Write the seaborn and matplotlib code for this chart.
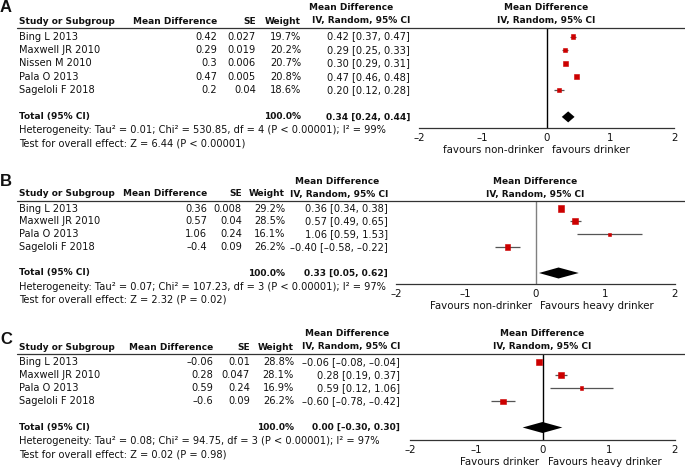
import matplotlib
matplotlib.use("Agg")
import matplotlib.pyplot as plt
import seaborn as sns
import pandas as pd
import numpy as np

# ---------------- data ----------------
studies_A = ["Bing L 2013", "Maxwell JR 2010", "Nissen M 2010", "Pala O 2013", "Sageloli F 2018"]
md_A = [0.42, 0.29, 0.3, 0.47, 0.2]
se_A = [0.027, 0.019, 0.006, 0.005, 0.04]
weight_A = [19.7, 20.2, 20.7, 20.8, 18.6]
lo_A = [0.37, 0.25, 0.29, 0.46, 0.12]
hi_A = [0.47, 0.33, 0.31, 0.48, 0.28]
total_A = [0.34, 0.24, 0.44]
het_A = "Heterogeneity: Tau\u00b2 = 0.01; Chi\u00b2 = 530.85, df = 4 (P < 0.00001); I\u00b2 = 99%"
test_A = "Test for overall effect: Z = 6.44 (P < 0.00001)"
favours_A = ["favours non-drinker", "favours drinker"]

studies_B = ["Bing L 2013", "Maxwell JR 2010", "Pala O 2013", "Sageloli F 2018"]
md_B = [0.36, 0.57, 1.06, -0.4]
se_B = [0.008, 0.04, 0.24, 0.09]
weight_B = [29.2, 28.5, 16.1, 26.2]
lo_B = [0.34, 0.49, 0.59, -0.58]
hi_B = [0.38, 0.65, 1.53, -0.22]
total_B = [0.33, 0.05, 0.62]
het_B = "Heterogeneity: Tau\u00b2 = 0.07; Chi\u00b2 = 107.23, df = 3 (P < 0.00001); I\u00b2 = 97%"
test_B = "Test for overall effect: Z = 2.32 (P = 0.02)"
favours_B = ["Favours non-drinker", "Favours heavy drinker"]

studies_C = ["Bing L 2013", "Maxwell JR 2010", "Pala O 2013", "Sageloli F 2018"]
md_C = [-0.06, 0.28, 0.59, -0.6]
se_C = [0.01, 0.047, 0.24, 0.09]
weight_C = [28.8, 28.1, 16.9, 26.2]
lo_C = [-0.08, 0.19, 0.12, -0.78]
hi_C = [-0.04, 0.37, 1.06, -0.42]
total_C = [0.00, -0.30, 0.30]
het_C = "Heterogeneity: Tau\u00b2 = 0.08; Chi\u00b2 = 94.75, df = 3 (P < 0.00001); I\u00b2 = 97%"
test_C = "Test for overall effect: Z = 0.02 (P = 0.98)"
favours_C = ["Favours drinker", "Favours heavy drinker"]

x_ticks = [-2, -1, 0, 1, 2]
x_tick_labels = ["\u20132", "\u20131", "0", "1", "2"]

# ---------------- style ----------------
sns.set_style("white")
plt.rcParams["font.family"] = ["DejaVu Sans"]
plt.rcParams["text.color"] = "#111111"
plt.rcParams["xtick.color"] = "#111111"
FS = 7.1
FSB = 6.5
W, H = 685, 467
fig = plt.figure(figsize=(W / 100, H / 100), dpi=100)


def fx(x):
    return x / W


def fy(y):
    return 1 - y / H


def num(v):
    return f"{v:g}".replace("-", "\u2013")


def f2(v):
    return f"{v:.2f}".replace("-", "\u2013")


panels = [
    dict(letter="A", letter_y=7, studies=studies_A, md=md_A, se=se_A, w=weight_A, lo=lo_A, hi=hi_A,
         total=total_A, het=het_A, test=test_A, fav=favours_A,
         line_y=28, row0=36.5, sp=13.4, axis_y=128,
         c_md=217, c_se=256, c_w=301, c_ci=410, ci_head=351,
         fl=419, fr=674, zcol="black"),
    dict(letter="B", letter_y=182, studies=studies_B, md=md_B, se=se_B, w=weight_B, lo=lo_B, hi=hi_B,
         total=total_B, het=het_B, test=test_B, fav=favours_B,
         line_y=201, row0=208.5, sp=12.9, axis_y=284,
         c_md=207, c_se=242, c_w=285, c_ci=388, ci_head=337,
         fl=396, fr=675, zcol="#808080"),
    dict(letter="C", letter_y=340, studies=studies_C, md=md_C, se=se_C, w=weight_C, lo=lo_C, hi=hi_C,
         total=total_C, het=het_C, test=test_C, fav=favours_C,
         line_y=354, row0=362, sp=13.1, axis_y=440,
         c_md=213, c_se=250, c_w=294, c_ci=400, ci_head=347,
         fl=410, fr=675, zcol="black"),
]

for p in panels:
    n = len(p["studies"])
    ly, r0, sp = p["line_y"], p["row0"], p["sp"]
    rows_px = [r0 + i * sp for i in range(n)]
    tot_px = r0 + (n + 1) * sp

    # panel letter
    fig.text(fx(0), fy(p["letter_y"]), p["letter"], fontsize=12, fontweight="bold",
             family="Liberation Sans", ha="left", va="center")

    # header line
    fig.add_artist(plt.Line2D([fx(17), fx(685)], [fy(ly), fy(ly)], color="#333333", lw=0.9))

    # headers
    hy = ly - 7
    hy2 = ly - 20
    kw = dict(fontsize=FSB, fontweight="bold", va="center")
    fig.text(fx(19), fy(hy), "Study or Subgroup", ha="left", **kw)
    fig.text(fx(p["c_md"]), fy(hy), "Mean Difference", ha="right", **kw)
    fig.text(fx(p["c_se"]), fy(hy), "SE", ha="right", **kw)
    fig.text(fx(p["c_w"]), fy(hy), "Weight", ha="right", **kw)
    fig.text(fx(p["c_ci"]), fy(hy), "IV, Random, 95% CI", ha="right", **kw)
    fig.text(fx(p["ci_head"]), fy(hy2), "Mean Difference", ha="center", **kw)
    x0px = p["fl"] + (p["fr"] - p["fl"]) / 2
    fig.text(fx(x0px), fy(hy), "IV, Random, 95% CI", ha="center", **kw)
    fig.text(fx(x0px), fy(hy2), "Mean Difference", ha="center", **kw)

    # rows
    kw = dict(fontsize=FS, va="center")
    for i in range(n):
        y = fy(rows_px[i])
        fig.text(fx(19), y, p["studies"][i], ha="left", **kw)
        fig.text(fx(p["c_md"]), y, num(p["md"][i]), ha="right", **kw)
        fig.text(fx(p["c_se"]), y, num(p["se"][i]), ha="right", **kw)
        fig.text(fx(p["c_w"]), y, f"{p['w'][i]:.1f}%", ha="right", **kw)
        fig.text(fx(p["c_ci"]), y,
                 f"{f2(p['md'][i])} [{f2(p['lo'][i])}, {f2(p['hi'][i])}]", ha="right", **kw)

    t = p["total"]
    kwb = dict(fontsize=FSB, va="center", fontweight="bold")
    fig.text(fx(19), fy(tot_px), "Total (95% CI)", ha="left", **kwb)
    fig.text(fx(p["c_w"]), fy(tot_px), "100.0%", ha="right", **kwb)
    fig.text(fx(p["c_ci"]), fy(tot_px), f"{f2(t[0])} [{f2(t[1])}, {f2(t[2])}]", ha="right", **kwb)
    fig.text(fx(19), fy(tot_px + 13.5), p["het"], ha="left", **kw)
    fig.text(fx(19), fy(tot_px + 27), p["test"], ha="left", **kw)

    # forest axes
    ay = p["axis_y"]
    ax = fig.add_axes([fx(p["fl"]), fy(ay), (p["fr"] - p["fl"]) / W, (ay - ly) / H])
    ax.set_facecolor("none")
    ax.set_xlim(-2, 2)
    ax.set_ylim((ay - r0) / sp, (ly - r0) / sp)
    for s in ["top", "left", "right"]:
        ax.spines[s].set_visible(False)
    ax.spines["bottom"].set_color("#333333")
    ax.spines["bottom"].set_linewidth(0.9)
    ax.set_yticks([])
    ax.set_xticks(x_ticks)
    ax.set_xticklabels(x_tick_labels, fontsize=FS + 0.3)
    ax.tick_params(axis="x", direction="inout", length=6, width=0.9, color="#333333", pad=0.5)
    ax.axvline(0, color=p["zcol"], lw=1.0, zorder=1)

    df = pd.DataFrame({"md": p["md"], "row": list(range(n)), "w": p["w"]})
    ax.hlines(df["row"], p["lo"], p["hi"], color="#555555", lw=0.9, zorder=2)
    sns.scatterplot(data=df, x="md", y="row", size="w", sizes=(6, 19), size_norm=(16, 29),
                    marker="s", color="#cc0000", edgecolor="#cc0000", linewidth=0.4,
                    legend=False, ax=ax, zorder=3)
    ax.set_xlabel("")
    ax.set_ylabel("")
    dy = 5.5 / sp
    ax.fill([t[1], t[0], t[2], t[0]], [n + 1, n + 1 - dy, n + 1, n + 1 + dy],
            color="black", zorder=3, lw=0)

    # favours labels
    zx = p["fl"] + (p["fr"] - p["fl"]) / 2
    fig.text(fx(zx - 3), fy(ay + 22), p["fav"][0], ha="right", va="center", fontsize=FS + 0.3)
    fig.text(fx(zx + 5), fy(ay + 22), p["fav"][1], ha="left", va="center", fontsize=FS + 0.3)

fig.savefig("out.png", dpi=100)
